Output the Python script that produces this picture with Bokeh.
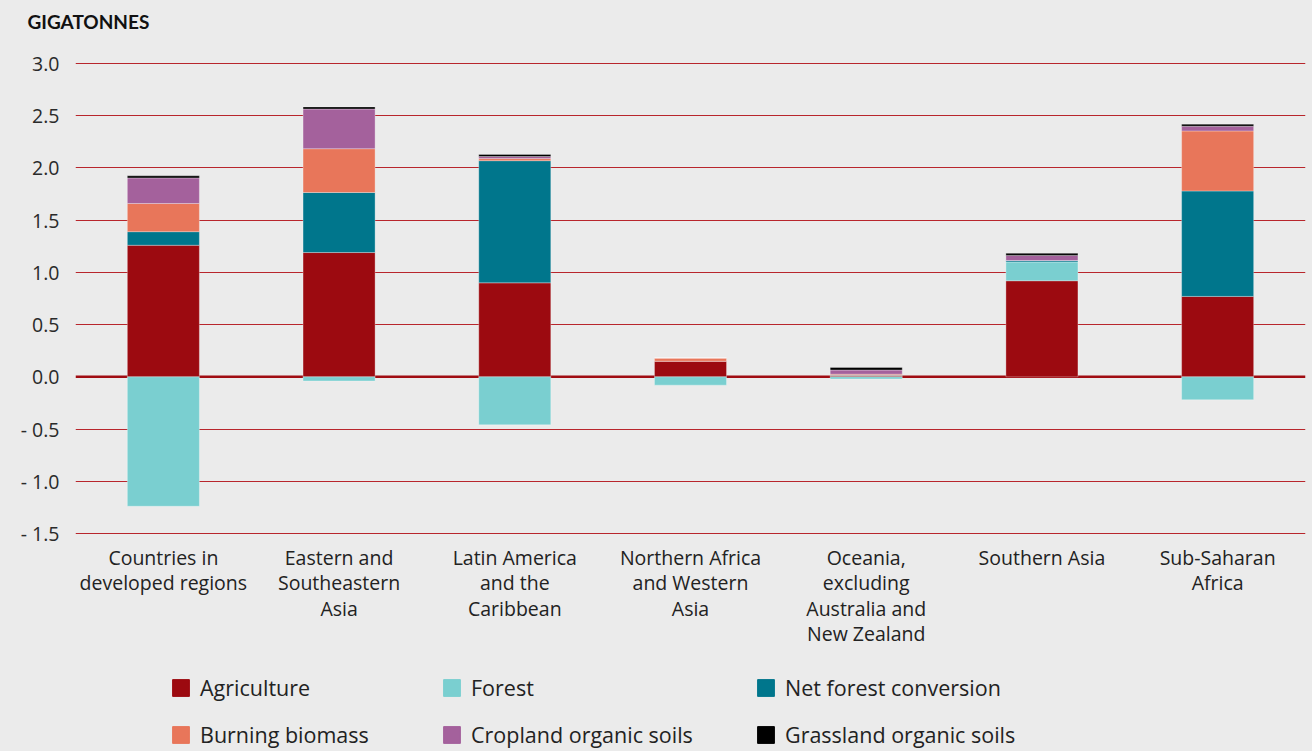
from bokeh.plotting import figure
from bokeh.layouts import column
from bokeh.models import (FactorRange, Range1d, FixedTicker, Legend, LegendItem,
                          ColumnDataSource, Span, Title)
from bokeh.embed import file_html
from bokeh.resources import INLINE

categories = [
    "Countries in\ndeveloped regions",
    "Eastern and\nSoutheastern\nAsia",
    "Latin America\nand the\nCaribbean",
    "Northern Africa\nand Western\nAsia",
    "Oceania,\nexcluding\nAustralia and\nNew Zealand",
    "Southern Asia",
    "Sub-Saharan\nAfrica",
]

agriculture = [1.26, 1.19, 0.90, 0.15, 0.01, 0.92, 0.77]
forest = [-1.24, -0.04, -0.46, -0.08, -0.02, 0.18, -0.22]
net_forest_conversion = [0.13, 0.575, 1.17, 0.0, 0.005, 0.013, 1.01]
burning_biomass = [0.27, 0.42, 0.02, 0.03, 0.01, 0.0, 0.575]
cropland_organic_soils = [0.245, 0.38, 0.02, 0.0, 0.04, 0.05, 0.045]
grassland_organic_soils = [0.02, 0.02, 0.02, 0.0, 0.025, 0.02, 0.02]

series_names = ["Agriculture", "Forest", "Net forest conversion",
                "Burning biomass", "Cropland organic soils", "Grassland organic soils"]
series_values = [agriculture, forest, net_forest_conversion,
                 burning_biomass, cropland_organic_soils, grassland_organic_soils]
series_colors = ["#9c0a10", "#7acfd0", "#00768c", "#e8765a", "#a4619c", "#000000"]

y_ticks = [-1.5, -1.0, -0.5, 0.0, 0.5, 1.0, 1.5, 2.0, 2.5, 3.0]
y_tick_labels = ["- 1.5", "- 1.0", "- 0.5", "0.0", "0.5", "1.0", "1.5", "2.0", "2.5", "3.0"]

FONT = "Open Sans"
BG = "#ebebeb"
W = 1312
TITLE_H, MAIN_H, LEG_H = 46, 604, 101

# ---- title strip ----
pt = figure(width=W, height=TITLE_H, output_backend="svg", toolbar_location=None,
            x_range=Range1d(0, 1), y_range=Range1d(0, 1),
            x_axis_type=None, y_axis_type=None,
            min_border_left=75, min_border_right=7, min_border_top=34, min_border_bottom=0,
            background_fill_color=BG, border_fill_color=BG, outline_line_color=None)
pt.xgrid.visible = False
pt.ygrid.visible = False
pt.title = Title(text="GIGATONNES", align="left", offset=-48, standoff=4,
                 text_font="Lato", text_font_style="bold", text_font_size="19px",
                 text_color="#111111")

# ---- main chart ----
p = figure(x_range=FactorRange(*categories), y_range=Range1d(-1.52, 3.02),
           width=W, height=MAIN_H, output_backend="svg", toolbar_location=None,
           min_border_left=75, min_border_right=7, min_border_top=15, min_border_bottom=112,
           background_fill_color=BG, border_fill_color=BG, outline_line_color=None)

p.xgrid.grid_line_color = None
p.ygrid.ticker = FixedTicker(ticks=[t for t in y_ticks if t != 0.0])
p.ygrid.grid_line_color = "#b8262c"
p.ygrid.grid_line_width = 1

zero = Span(location=0, dimension="width", line_color="#a00c12", line_width=2.5, level="underlay")
p.add_layout(zero)

p.yaxis.ticker = FixedTicker(ticks=y_ticks)
p.yaxis.major_label_overrides = dict(zip(y_ticks, y_tick_labels))
p.yaxis.axis_line_color = None
p.yaxis.major_tick_line_color = None
p.yaxis.minor_tick_line_color = None
p.yaxis.major_label_standoff = 10
p.yaxis.major_label_text_font = FONT
p.yaxis.major_label_text_font_size = "19.5px"
p.yaxis.major_label_text_color = "#2a2a2a"

p.xaxis.axis_line_color = None
p.xaxis.major_tick_line_color = None
p.xaxis.minor_tick_line_color = None
p.xaxis.major_label_standoff = 2
p.xaxis.major_label_text_font = FONT
p.xaxis.major_label_text_font_size = "19.5px"
p.xaxis.major_label_text_color = "#222222"
p.xaxis.major_label_text_line_height = 0.95

# stacked bars (positive values stack up, negative values stack down)
n = len(categories)
pos = [0.0] * n
neg = [0.0] * n
for name, vals, color in zip(series_names, series_values, series_colors):
    bottoms, tops = [], []
    for i, v in enumerate(vals):
        if v >= 0:
            bottoms.append(pos[i]); tops.append(pos[i] + v); pos[i] += v
        else:
            tops.append(neg[i]); bottoms.append(neg[i] + v); neg[i] += v
    src = ColumnDataSource(dict(x=categories, bottom=bottoms, top=tops))
    p.vbar(x="x", bottom="bottom", top="top", width=0.41, source=src,
           fill_color=color, line_color="white", line_alpha=0.3, line_width=1)

# ---- legend strip ----
pl = figure(width=W, height=LEG_H, output_backend="svg", toolbar_location=None,
            x_range=Range1d(0, 1), y_range=Range1d(0, 1),
            x_axis_type=None, y_axis_type=None,
            min_border_left=75, min_border_right=7, min_border_top=0, min_border_bottom=0,
            background_fill_color=BG, border_fill_color=BG, outline_line_color=None)
pl.xgrid.visible = False
pl.ygrid.visible = False
leg_renderers = {}
for name, color in zip(series_names, series_colors):
    # legend swatch renderers: a single zero-height bar kept outside the visible range
    leg_renderers[name] = pl.vbar(x=[-10], bottom=[0], top=[0], width=0.1, fill_color=color,
                                  line_color=color, line_alpha=1.0, line_width=1)

legend_columns = [["Agriculture", "Burning biomass"],
                  ["Forest", "Cropland organic soils"],
                  ["Net forest conversion", "Grassland organic soils"]]
legend_col_x = [170, 441, 755]
for names, lx in zip(legend_columns, legend_col_x):
    leg = Legend(items=[LegendItem(label=nm, renderers=[leg_renderers[nm]]) for nm in names],
                 location=(lx - 75, 2), orientation="vertical",
                 glyph_width=21, glyph_height=21, label_standoff=9,
                 label_height=28, spacing=18, padding=0, margin=0,
                 border_line_color=None, background_fill_alpha=0,
                 label_text_font=FONT, label_text_font_size="21.5px",
                 label_text_color="#222222", label_text_baseline="middle")
    pl.add_layout(leg, "center")

layout = column(pt, p, pl, spacing=0)
html = file_html(layout, INLINE)
html = html.replace("</head>", "<style>html, body {background: #ebebeb;}</style></head>", 1)
open("out.html", "w").write(html)
